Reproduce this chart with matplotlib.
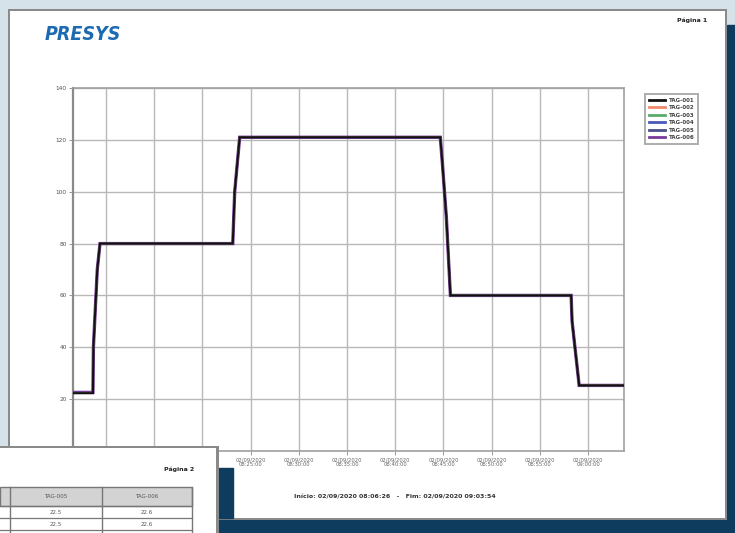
import matplotlib
matplotlib.use("Agg")
import matplotlib.pyplot as plt
from matplotlib.patches import Rectangle
import pandas as pd

# ---------------- data ----------------
times = ["08:06:35", "08:08:39", "08:08:42", "08:09:06", "08:09:23",
         "08:23:09", "08:23:21", "08:23:52",
         "08:44:40", "08:44:53", "08:45:18", "08:45:43",
         "08:58:14", "08:58:20", "08:59:04", "09:03:40"]
tag_001 = [22.3, 22.3, 40, 70, 80, 80, 100, 121, 121, 111, 90, 60, 60, 50, 25.3, 25.3]
tag_002 = [22.3, 22.3, 40, 70, 80, 80, 100, 121, 121, 111, 90, 60, 60, 50, 25.3, 25.3]
tag_003 = [22.4, 22.4, 40, 70, 80, 80, 100, 121, 121, 111, 90, 60, 60, 50, 25.3, 25.3]
tag_004 = [22.4, 22.4, 40, 70, 80, 80, 100, 121, 121, 111, 90, 60, 60, 50, 25.3, 25.3]
tag_005 = [22.5, 22.5, 40, 70, 80, 80, 100, 121, 121, 111, 90, 60, 60, 50, 25.3, 25.3]
tag_006 = [22.6, 22.6, 40, 70, 80, 80, 100, 121, 121, 111, 90, 60, 60, 50, 25.3, 25.3]
tags = ["TAG-001", "TAG-002", "TAG-003", "TAG-004", "TAG-005", "TAG-006"]
series = [tag_001, tag_002, tag_003, tag_004, tag_005, tag_006]
colors = ["#111111", "#f08a6a", "#5aaa6a", "#4a5ab8", "#4a4e8a", "#7a3a9a"]
x_ticks = ["08:10:00", "08:15:00", "08:20:00", "08:25:00", "08:30:00", "08:35:00",
           "08:40:00", "08:45:00", "08:50:00", "08:55:00", "09:00:00"]
y_ticks = [20, 40, 60, 80, 100, 120, 140]
date_str = "02/09/2020"
x_start, x_end = "08:06:35", "09:03:43"

W, H = 735, 533
fig = plt.figure(figsize=(W / 100, H / 100), dpi=100)

# ---------------- background / page decoration ----------------
bg = fig.add_axes([0, 0, 1, 1], zorder=0)
bg.set_xlim(0, W)
bg.set_ylim(H, 0)
bg.axis("off")
bg.add_patch(Rectangle((0, 0), W, H, color="#d6e2ea"))
bg.add_patch(Rectangle((727, 25), 8, H, color="#0e3c5e"))
bg.add_patch(Rectangle((218, 518), W, 15, color="#0e3c5e"))
bg.add_patch(Rectangle((218, 468), 15, 65, color="#0e3c5e"))
bg.add_patch(Rectangle((8, 9), 719, 511, facecolor="#8a8a8a", edgecolor="none"))
bg.add_patch(Rectangle((10, 11), 715, 507, facecolor="white", edgecolor="none"))
bg.add_patch(Rectangle((218, 468), 15, 50, color="#0e3c5e"))

fig.text(45 / W, 1 - 34 / H, "PRESYS", color="#1c6ab2", fontsize=14, fontweight="bold",
         fontstyle="italic", fontstretch="condensed", va="center", ha="left",
         family="DejaVu Sans")
fig.text(707 / W, 1 - 20 / H, "Página 1", fontsize=4.5, fontweight="bold", color="#222222",
         ha="right", va="center")
fig.text(395 / W, 1 - 497 / H,
         "Início: " + date_str + " 08:06:26   -   Fim: " + date_str + " 09:03:54",
         fontsize=4.5, fontweight="bold", color="#333333", ha="center", va="center")

# ---------------- chart ----------------
ax = fig.add_axes([73 / W, 1 - 451 / H, (624 - 73) / W, (451 - 88) / H], zorder=2)
tx = pd.to_datetime([date_str + " " + t for t in times], format="%d/%m/%Y %H:%M:%S")
order = [5, 4, 3, 2, 1, 0]
lws = [1.5, 1.0, 1.0, 1.0, 1.2, 2.4]
handles = {}
for i in order:
    (ln,) = ax.plot(tx, series[i], color=colors[i], lw=lws[i], solid_joinstyle="miter",
                    zorder=3 + (5 - i))
    handles[i] = ln

ax.set_xlim(pd.to_datetime(date_str + " " + x_start, format="%d/%m/%Y %H:%M:%S"),
            pd.to_datetime(date_str + " " + x_end, format="%d/%m/%Y %H:%M:%S"))
ax.set_ylim(0, 140)
xt = pd.to_datetime([date_str + " " + t for t in x_ticks], format="%d/%m/%Y %H:%M:%S")
ax.set_xticks(xt)
ax.set_xticklabels([date_str + "\n" + t for t in x_ticks], fontsize=3.8, color="#666666",
                   linespacing=1.0)
ax.set_yticks([0] + y_ticks)
ax.set_yticklabels([""] + [str(v) for v in y_ticks], fontsize=4.2, color="#555555")
ax.tick_params(axis="both", length=3, width=0.6, color="#888888", pad=1.5)
ax.grid(True, color="#b8b8b8", lw=1.0)
ax.set_axisbelow(True)
for s in ["top", "right", "bottom"]:
    ax.spines[s].set_color("#a0a0a0")
    ax.spines[s].set_linewidth(1.2)
ax.spines["left"].set_color("#8a8a8a")
ax.spines["left"].set_linewidth(1.6)

leg = fig.legend([handles[i] for i in range(6)], tags, loc="upper left",
                 bbox_to_anchor=(642 / W, 1 - 91 / H), fontsize=4.0, frameon=True,
                 fancybox=False, handlelength=3.0, handletextpad=0.6, labelspacing=0.45,
                 borderpad=0.7)
leg.get_frame().set_edgecolor("#999999")
leg.get_frame().set_linewidth(1.4)
for t in leg.get_texts():
    t.set_color("#444444")
    t.set_fontweight("bold")
for lh in leg.get_lines():
    lh.set_linewidth(2.0)

# ---------------- overlapping page 2 ----------------
ov = fig.add_axes([0, 0, 1, 1], zorder=5)
ov.set_xlim(0, W)
ov.set_ylim(H, 0)
ov.axis("off")
ov.patch.set_alpha(0)
ov.add_patch(Rectangle((0, 446), 219, 90, facecolor="#8a8a8a", edgecolor="none"))
ov.add_patch(Rectangle((0, 448), 216, 90, facecolor="white", edgecolor="none"))
ov.text(194, 469, "Página 2", fontsize=4.5, fontweight="bold", color="#222222",
        ha="right", va="center")
ov.add_patch(Rectangle((0, 487), 192, 19, facecolor="#d3d3d3", edgecolor="#777777", lw=1.0))
for xv in [10, 102, 192]:
    ov.plot([xv, xv], [487, 533], color="#777777", lw=1.0)
for yv in [506, 518, 530]:
    ov.plot([0, 192], [yv, yv], color="#777777", lw=0.9)
ov.text(56, 496, "TAG-005", fontsize=4, color="#555555", ha="center", va="center")
ov.text(147, 496, "TAG-006", fontsize=4, color="#555555", ha="center", va="center")
for yv, a, b in [(512, "22.5", "22.6"), (524, "22.5", "22.6")]:
    ov.text(56, yv, a, fontsize=4, color="#555555", ha="center", va="center")
    ov.text(147, yv, b, fontsize=4, color="#555555", ha="center", va="center")

fig.savefig("out.png", dpi=100)
